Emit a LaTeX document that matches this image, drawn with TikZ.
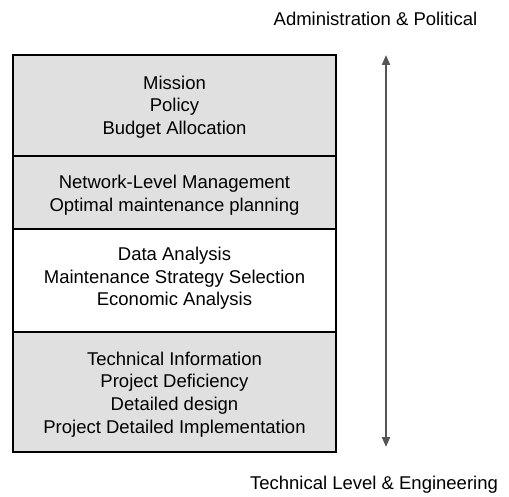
\documentclass[tikz,border=0pt]{standalone}
\usepackage{fontspec}
\setmainfont{Liberation Sans}
\usetikzlibrary{arrows.meta}
\definecolor{boxgray}{HTML}{E0E0E0}
\definecolor{arrowgray}{HTML}{555555}
\begin{document}
\begin{tikzpicture}[x=1pt,y=-1pt,
  layerbox/.style={draw=black, line width=2pt, inner sep=0pt, outer sep=0pt},
  layertext/.style={align=center, inner sep=0pt, font=\fontsize{18.5}{22.6}\selectfont},
  sidelabel/.style={inner sep=0pt, font=\fontsize{18.5}{22.6}\selectfont},
  levelarrow/.style={draw=arrowgray, line width=2pt, {Triangle[length=10pt,width=8pt]}-{Triangle[length=10pt,width=8pt]}}]
\useasboundingbox (0,0) rectangle (509,497);
% layers
\path[layerbox, fill=boxgray] (13,55) rectangle (336,156) node[pos=0.5] (s1) {};
\path[layerbox, fill=boxgray] (13,156) rectangle (336,229) node[pos=0.5] (s2) {};
\path[layerbox, fill=white] (13,229) rectangle (336,332) node[pos=0.5] (s3) {};
\path[layerbox, fill=boxgray] (13,332) rectangle (336,452) node[pos=0.5] (s4) {};
\draw[line width=2.6pt] (13,55) rectangle (336,452);
% texts
\node[layertext] (t1) at (174.5,107) {Mission\\Policy\\Budget Allocation};
\node[layertext] (t2) at (174.5,195) {Network-Level Management\\Optimal maintenance planning};
\node[layertext] (t3) at (174.5,278.5) {Data Analysis\\Maintenance Strategy Selection\\Economic Analysis};
\node[layertext] (t4) at (174.5,394.5) {Technical Information\\Project Deficiency\\Detailed design\\Project Detailed Implementation};
% side labels and arrow
\node[sidelabel] (top) at (375.5,19) {Administration \& Political};
\node[sidelabel] (bot) at (374,485) {Technical Level \& Engineering};
\coordinate (atop) at (386,55);
\coordinate (abot) at (386,447);
\draw[levelarrow] (atop) -- (abot);
\end{tikzpicture}
\end{document}
